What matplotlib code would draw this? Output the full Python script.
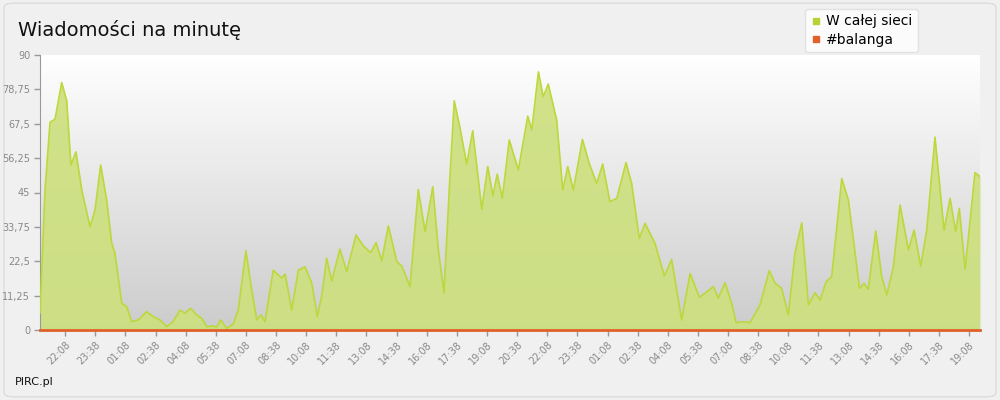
import matplotlib
matplotlib.use("Agg")
import matplotlib.pyplot as plt
import numpy as np
from matplotlib.patches import FancyBboxPatch
from matplotlib.lines import Line2D
from matplotlib.colors import LinearSegmentedColormap

# hours since 20:53 (day 1)
t = [0,0.25,0.50,0.75,1.08,1.33,1.54,1.79,2.08,2.49,2.74,3.02,3.32,3.57,3.73,4.07,4.32,4.56,4.89,5.31,
     5.63,5.97,6.31,6.62,6.97,7.22,7.50,7.80,8.05,8.30,8.63,8.80,9.00,9.29,9.62,9.87,10.25,10.54,10.79,11.00,
     11.20,11.61,11.86,12.03,12.20,12.53,12.86,13.19,13.53,13.80,14.02,14.27,14.52,14.93,15.27,15.73,16.10,16.46,16.73,17.01,
     17.34,17.76,18.01,18.42,18.83,19.17,19.55,19.83,20.11,20.37,20.62,20.91,21.24,21.54,21.99,22.29,22.54,22.76,23.01,23.36,
     23.81,24.28,24.48,24.81,25.05,25.30,25.72,26.02,26.27,26.55,27.00,27.34,27.71,28.01,28.37,28.71,29.17,29.45,29.83,30.12,
     30.61,31.08,31.44,31.94,32.36,32.82,33.27,33.52,33.76,34.10,34.43,34.65,35.01,35.34,35.84,36.30,36.59,36.92,37.25,37.58,
     37.92,38.25,38.58,38.83,39.13,39.41,39.91,40.24,40.49,40.79,41.02,41.23,41.60,41.90,42.15,42.48,42.81,43.23,43.51,43.84,
     44.14,44.55,45.00,45.30,45.58,45.76,46.05,46.54,46.79]
whole_network = [5.5,45.8,68,69,81,75,54,58.3,45.8,33.8,39.3,54,42.5,28.4,25.1,8.8,7.6,2.7,3.3,6,
     4.4,3.3,1.1,2.7,6.5,5.5,7.1,4.9,3.8,1.1,1.3,1,3.3,0.5,2,6.5,26,13,3.3,4.9,
     2.7,19.6,18,17,18.3,6.5,19.6,20.7,15.3,4.4,10.9,23.5,16,26.5,19.1,31.1,27.5,25.3,28.6,22.7,
     34.1,22.4,20.9,14.2,46,32.2,46.9,26.2,12.2,45.8,75,66,54.3,65.2,39.5,53.5,43.9,51,43.1,62.2,
     52.4,70,65.5,84.5,76.4,80.5,68.7,45.8,53.5,45.8,62.4,54.5,48,54.3,42,43.1,54.8,48,30,34.9,
     28.4,17.7,23.1,3.3,18.5,10.7,12.9,14.2,10.4,15.5,8.7,2.4,2.7,2.4,8.2,19.4,15.3,13.6,4.9,25.1,
     35.1,8.2,12.2,9.8,15.8,17.5,49.6,42.5,29.5,13.6,15.3,13.3,32.4,17.5,11.5,20.7,40.9,26.2,32.7,20.9,
     32.7,63.1,32.7,43.1,32.2,39.8,19.9,51.5,50.2]
balanga = [0.0] * len(t)

yticks = [0, 11.25, 22.5, 33.75, 45, 56.25, 67.5, 78.75, 90]
ytick_labels = ['0', '11,25', '22,5', '33,75', '45', '56,25', '67,5', '78,75', '90']
xtick_labels = ['22:08','23:38','01:08','02:38','04:08','05:38','07:08','08:38','10:08','11:38','13:08','14:38',
                '16:08','17:38','19:08','20:38','22:08','23:38','01:08','02:38','04:08','05:38','07:08','08:38',
                '10:08','11:38','13:08','14:38','16:08','17:38','19:08']

fig = plt.figure(figsize=(10, 4), dpi=100, facecolor='#f0f0f0')
border = FancyBboxPatch((0.004, 0.008), 0.992, 0.984, boxstyle='round,pad=0,rounding_size=0.01',
                        transform=fig.transFigure, facecolor='#f0f0f0', edgecolor='#dcdcdc', lw=1, zorder=-10)
fig.patches.append(border)

ax = fig.add_axes([0.04, 0.175, 0.94, 0.6875])
ax.set_zorder(1)
ax.patch.set_alpha(0)
xmax = 46.79
cmap = LinearSegmentedColormap.from_list('g', ['#ffffff', '#cccccc'])
ax.imshow(np.linspace(0, 1, 256).reshape(-1, 1), extent=[0, xmax, 0, 90], aspect='auto',
          cmap=cmap, origin='upper', zorder=0)

ax.fill_between(t, whole_network, 0, color='#cde07f', alpha=0.92, zorder=2, lw=0)
ax.plot(t, whole_network, color='#bcd83a', lw=1.2, zorder=3)
ax.plot(t, balanga, color='#e0622a', lw=2, zorder=4, clip_on=False)

ax.set_xlim(0, xmax)
ax.set_ylim(0, 90)
ax.set_yticks(yticks)
ax.set_yticklabels(ytick_labels)
xt = [1.25 + 1.5 * i for i in range(len(xtick_labels))]
ax.set_xticks(xt)
ax.set_xticklabels(xtick_labels, rotation=45, ha='right', rotation_mode='anchor')
ax.tick_params(colors='#999999', labelsize=7, length=4, width=1, pad=3)
for lbl in ax.get_xticklabels() + ax.get_yticklabels():
    lbl.set_color('#888888')
for s in ['top', 'right']:
    ax.spines[s].set_visible(False)
ax.spines['left'].set_color('#999999')
ax.spines['bottom'].set_color('#999999')

fig.text(0.018, 0.925, 'Wiadomości na minutę', fontsize=14, color='#111111', va='center')
fig.text(0.015, 0.045, 'PIRC.pl', fontsize=8, color='#111111', va='center')

handles = [Line2D([], [], marker='s', ls='none', color='#b5d334', markersize=4),
           Line2D([], [], marker='s', ls='none', color='#e0622a', markersize=4)]
leg = fig.legend(handles, ['W całej sieci', '#balanga'], loc='upper left',
                 bbox_to_anchor=(0.798, 0.995), frameon=True, fontsize=10, handletextpad=0.3,
                 handlelength=0.8, borderpad=0.4, labelspacing=0.3)
leg.get_frame().set_facecolor('white')
leg.get_frame().set_edgecolor('#dddddd')
leg.set_zorder(5)

fig.savefig('out.png', dpi=100, facecolor=fig.get_facecolor())
